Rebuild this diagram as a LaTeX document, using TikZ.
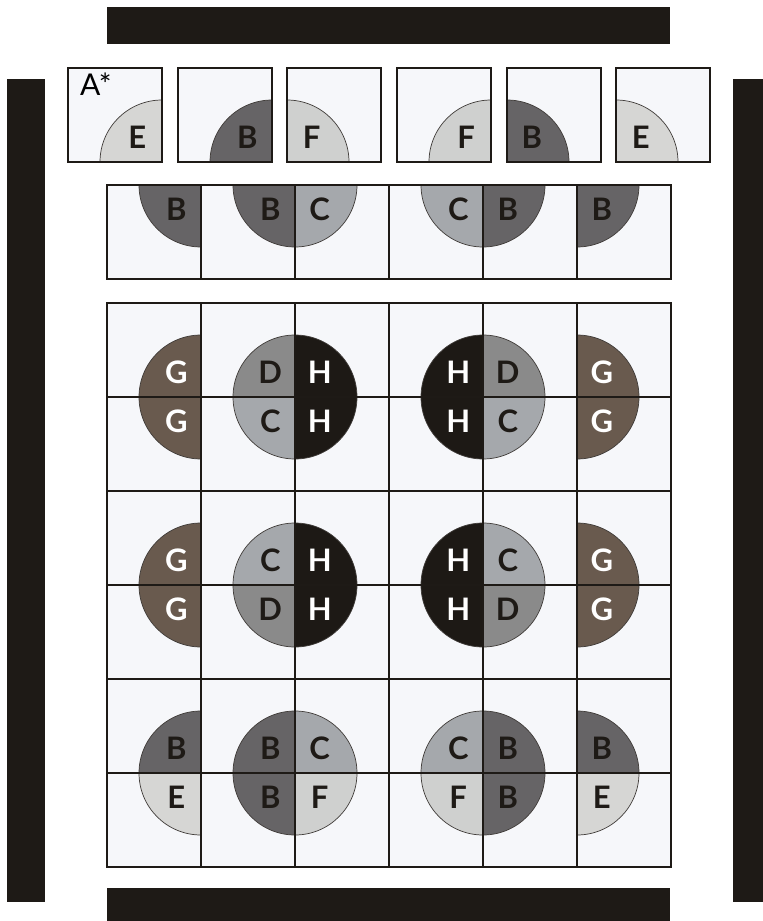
\documentclass[tikz,border=0pt]{standalone}
\usepackage{fontspec}
\setmainfont{Lato}
\usetikzlibrary{calc,backgrounds}
\definecolor{ink}{RGB}{30,26,22}
\definecolor{paper}{RGB}{246,247,250}
\definecolor{fillB}{RGB}{102,100,102}
\definecolor{fillC}{RGB}{165,168,172}
\definecolor{fillD}{RGB}{138,138,138}
\definecolor{fillE}{RGB}{214,214,212}
\definecolor{fillF}{RGB}{207,208,207}
\definecolor{fillG}{RGB}{105,90,78}
\definecolor{fillH}{RGB}{29,25,21}
\colorlet{txtB}{ink}\colorlet{txtC}{ink}\colorlet{txtD}{ink}\colorlet{txtE}{ink}
\colorlet{txtF}{ink}\colorlet{txtG}{white}\colorlet{txtH}{white}
\tikzset{
  cell/.style={draw=ink,line width=1.8pt,minimum size=94pt,inner sep=0pt,outer sep=0pt},
  tile/.style={cell},
  rim/.style={draw=ink!85,line width=0.7pt},
  tag/.style={font=\fontsize{31}{31}\selectfont\bfseries,inner sep=0pt},
  bar/.style={fill=ink}
}
% quarter disc in a cell: cell, start angle, letter
\newcommand{\quarterdisc}[3]{%
  \pgfmathtruncatemacro\cornerangle{mod(#2+225,360)}%
  \begin{scope}[on background layer]
    \fill[fill#3] (#1.\cornerangle) -- ++(#2:62) arc[start angle=#2,delta angle=90,radius=62] -- cycle;
    \draw[rim] ($(#1.\cornerangle)+(#2:62)$) arc[start angle=#2,delta angle=90,radius=62];
  \end{scope}
  \node[tag,text=txt#3] (#1-l) at ($(#1.\cornerangle)+(#2+45:35)$) {#3};}

\begin{document}
\begin{tikzpicture}[x=1pt,y=1pt]
\useasboundingbox (0,0) rectangle (763,-921);
% walls
\fill[bar] (107,-7) rectangle (670,-44);
\fill[bar] (107,-888) rectangle (670,-921);
\fill[bar] (7,-79) rectangle (45,-902);
\fill[bar] (733,-79) rectangle (763,-902);
% cells
\foreach \i/\x in {1/68,2/178,3/287,4/397,5/507,6/616}
  \node[tile,anchor=north west] (tile\i) at (\x,-68) {};
\foreach \i in {1,...,6}
  \node[cell,anchor=north west] (strip\i) at ({107+94*(\i-1)},-185) {};
\foreach \r in {1,...,6}
  \foreach \c in {1,...,6}
    \node[cell,anchor=north west] (g\r\c) at ({107+94*(\c-1)},{-303-94*(\r-1)}) {};
\begin{scope}[on background layer]
  \foreach \i in {1,...,6} \fill[paper] (tile\i.south west) rectangle (tile\i.north east);
  \fill[paper] (strip1.south west) rectangle (strip6.north east);
  \fill[paper] (g61.south west) rectangle (g16.north east);
\end{scope}
\node[anchor=base west,font=\fontsize{30}{30}\selectfont,inner sep=0pt] (mark) at ($(tile1.north west)+(12,-27)$) {A*};
% discs
\foreach \n/\a/\l in {tile1/90/E,tile2/90/B,tile3/0/F,tile4/90/F,tile5/0/B,tile6/0/E,
  strip1/180/B,strip2/180/B,strip3/270/C,strip4/180/C,strip5/270/B,strip6/270/B,
  g11/90/G,g12/90/D,g13/0/H,g14/90/H,g15/0/D,g16/0/G,
  g21/180/G,g22/180/C,g23/270/H,g24/180/H,g25/270/C,g26/270/G,
  g31/90/G,g32/90/C,g33/0/H,g34/90/H,g35/0/C,g36/0/G,
  g41/180/G,g42/180/D,g43/270/H,g44/180/H,g45/270/D,g46/270/G,
  g51/90/B,g52/90/B,g53/0/C,g54/90/C,g55/0/B,g56/0/B,
  g61/180/E,g62/180/B,g63/270/F,g64/180/F,g65/270/B,g66/270/E}
  \quarterdisc{\n}{\a}{\l};
\end{tikzpicture}
\end{document}
